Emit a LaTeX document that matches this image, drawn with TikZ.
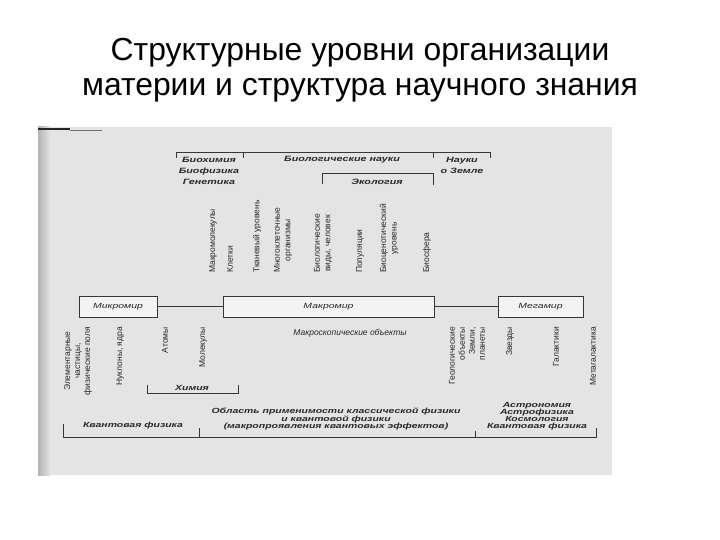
\documentclass[tikz,border=0pt]{standalone}
\usepackage{fontspec}
\setmainfont{Liberation Sans}
\newfontfamily\scanfont[FakeStretch=1.4]{Liberation Sans}
\definecolor{scanbg}{RGB}{228,228,228}
\definecolor{inkline}{RGB}{55,55,55}
\definecolor{inktext}{RGB}{40,40,40}

\begin{document}
\begin{tikzpicture}[x=1bp,y=-1bp,
  topname/.style={font=\scanfont\bfseries\itshape\fontsize{7.7}{11}\selectfont, text=inktext, align=center, inner sep=0pt},
  sciname/.style={font=\scanfont\bfseries\itshape\fontsize{7.5}{7}\selectfont, text=inktext, align=center, inner sep=0pt},
  levelbox/.style={draw=inkline, line width=0.6pt, fill=white!55!scanbg, minimum height=21bp, inner sep=0pt, text=inktext, font=\scanfont\itshape\fontsize{7.5}{9}\selectfont},
  uplevel/.style={rotate=90, anchor=west, inner sep=0pt, align=center, text=inktext, font=\fontsize{8.5}{10.5}\selectfont},
  lowlevel/.style={rotate=90, anchor=east, inner sep=0pt, align=center, text=inktext, font=\fontsize{8.5}{10}\selectfont},
  bracket/.style={draw=inkline, line width=0.6pt}]
  \useasboundingbox (0,0) rectangle (720,540);

  %% Title
  \node[font=\fontsize{32}{36}\selectfont, align=center, anchor=base] (title) at (360,96)
    {Структурные уровни организации\\материи и структура научного знания};

  %% Scanned page
  \fill[scanbg] (38,127) rectangle (612,475);
  \shade[left color=gray!60, right color=scanbg] (38,127) rectangle (50,475);
  \draw[line width=1.4pt, black!85] (38,129) -- (70,129);
  \draw[line width=0.7pt, black!55] (70,130.5) -- (102,130.5);

  %% Sciences (top)
  \draw[bracket] (176,158) -- (176,152) -- (490,152) -- (490,158);
  \draw[bracket] (243,152) -- (243,158);
  \draw[bracket] (433,152) -- (433,158);
  \draw[bracket] (322,184) -- (322,173.5) -- (433,173.5) -- (433,185);
  \node[topname] (biochem) at (209,171) {Биохимия\\Биофизика\\Генетика};
  \node[topname] (biosci) at (342,160) {Биологические науки};
  \node[topname] (earthsci) at (462,165.5) {Науки\\о Земле};
  \node[topname] (ecology) at (377,182) {Экология};

  %% Levels of living matter
  \node[uplevel] (molec) at (213,273) {Макромолекулы};
  \node[uplevel] (cells) at (230,273) {Клетки};
  \node[uplevel] (tissue) at (257,273) {Тканевый уровень};
  \node[uplevel] (multicell) at (283,273) {Многоклеточные\\организмы};
  \node[uplevel] (species) at (323,273) {Биологические\\виды, человек};
  \node[uplevel] (popul) at (360,273) {Популяции};
  \node[uplevel] (biocen) at (389,273) {Биоценотический\\уровень};
  \node[uplevel] (biosph) at (427,273) {Биосфера};

  %% Micro, macro, mega
  \node[levelbox, minimum width=78bp] (micro) at (118,306.5) {Микромир};
  \node[levelbox, minimum width=211bp] (macro) at (328.5,306.5) {Макромир};
  \node[levelbox, minimum width=85bp] (mega) at (540.5,306.5) {Мегамир};
  \draw[bracket] (micro) -- (macro);
  \draw[bracket] (macro) -- (mega);

  %% Levels of non-living matter
  \node[lowlevel] (elem) at (78,327) {Элементарные\\частицы,\\физические поля};
  \node[lowlevel] (nucl) at (120,327) {Нуклоны, ядра};
  \node[lowlevel] (atoms) at (165,327) {Атомы};
  \node[lowlevel] (molecl) at (203,327) {Молекулы};
  \node[font=\itshape\fontsize{8.5}{10}\selectfont, text=inktext, inner sep=0pt] (macroobj) at (350,333) {Макроскопические объекты};
  \node[lowlevel, align=right] (geo) at (467,327) {Геологические\\объекты\\Земли,\\планеты};
  \node[lowlevel] (stars) at (510,327) {Звезды};
  \node[lowlevel] (galax) at (556,327) {Галактики};
  \node[lowlevel] (metagal) at (593,327) {Метагалактика};

  %% Sciences (bottom)
  \draw[bracket] (147,385) -- (147,393) -- (238,393) -- (238,385);
  \node[sciname] (chem) at (192,387.5) {Химия};
  \draw[bracket] (63,424) -- (63,437) -- (596,437) -- (596,428);
  \draw[bracket] (199,428) -- (199,437);
  \draw[bracket] (475,431) -- (475,437);
  \node[sciname] (quantl) at (133,426) {Квантовая физика};
  \node[sciname] (classic) at (336,419)
    {Область применимости классической физики\\и квантовой физики\\(макропроявления квантовых эффектов)};
  \node[sciname] (astro) at (537,416.5) {Астрономия\\Астрофизика\\Космология\\Квантовая физика};
\end{tikzpicture}
\end{document}
